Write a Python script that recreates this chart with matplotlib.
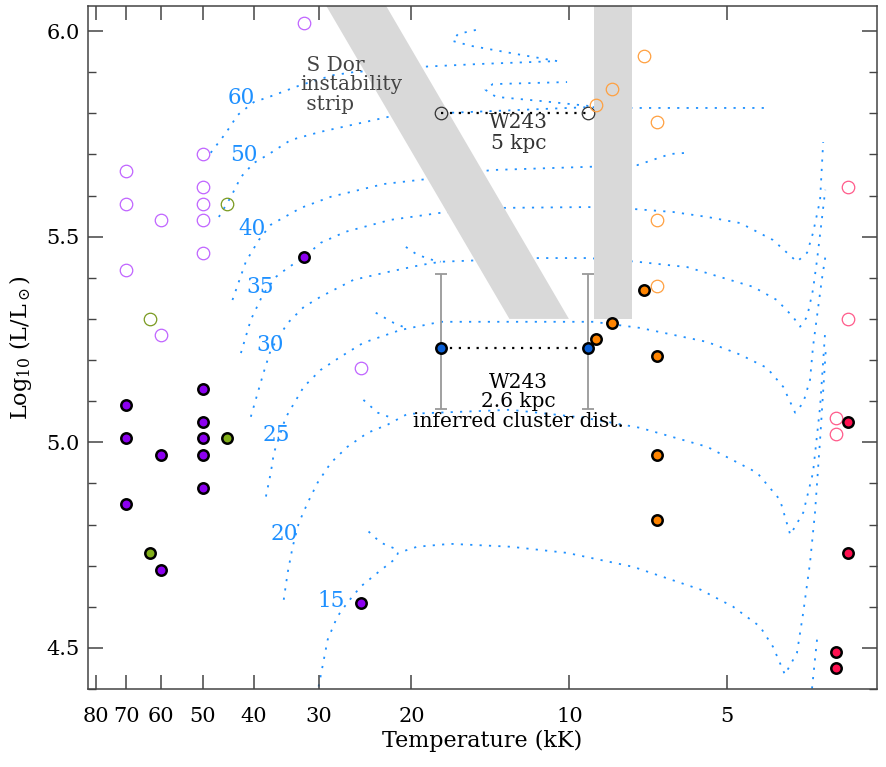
import numpy as np
import matplotlib
matplotlib.use('Agg')
import matplotlib.pyplot as plt
from matplotlib.ticker import MultipleLocator, NullLocator, FormatStrFormatter

plt.rcParams['font.family'] = ['DejaVu Serif']
plt.rcParams['mathtext.fontset'] = 'dejavuserif'

nan = np.nan

# stars: temperature (kK) and log10 L/Lsun
violet_open_T = [32, 70, 70, 70, 60, 60, 50, 50, 50, 50, 50, 25]
violet_open_L = [6.02, 5.66, 5.58, 5.42, 5.54, 5.26, 5.70, 5.62, 5.58, 5.54, 5.46, 5.18]
violet_T = [32, 70, 70, 70, 60, 60, 50, 50, 50, 50, 50, 25]
violet_L = [5.45, 5.09, 5.01, 4.85, 4.97, 4.69, 5.13, 5.05, 5.01, 4.97, 4.89, 4.61]
green_open_T = [45, 63]
green_open_L = [5.58, 5.30]
green_T = [45, 63]
green_L = [5.01, 4.73]
orange_open_T = [7.19, 8.28, 8.88, 6.79, 6.79, 6.79]
orange_open_L = [5.94, 5.86, 5.82, 5.78, 5.54, 5.38]
orange_T = [7.19, 8.28, 8.88, 6.79, 6.79, 6.79]
orange_L = [5.37, 5.29, 5.25, 5.21, 4.97, 4.81]
pink_open_T = [2.94, 2.94, 3.10, 3.10]
pink_open_L = [5.62, 5.30, 5.06, 5.02]
red_T = [2.94, 2.94, 3.10, 3.10]
red_L = [5.05, 4.73, 4.49, 4.45]

# W243 at two distances
w243_T = [17.6, 9.2]
w243_5kpc_L = [5.80, 5.80]
w243_26kpc_L = [5.23, 5.23]
w243_err_lo = [0.15, 0.15]
w243_err_hi = [0.18, 0.18]

# S Dor instability strip and the yellow-hypergiant band
sdor_T = [29.07, 22.35, 10.02, 13.01]
sdor_L = [6.061, 6.061, 5.30, 5.30]
yhg_T = [8.97, 7.58, 7.58, 8.97]
yhg_L = [6.061, 6.061, 5.30, 5.30]

# evolutionary tracks (T kK, log L), nan breaks a segment
track_60 = [(48.3, 5.704), (45.2, 5.752), (42.9, 5.796), (40.0, 5.827), (36.6, 5.844),
            (32.5, 5.869), (28.15, 5.893), (25.8, 5.900), (19.2, 5.913), (14.8, 5.920),
            (10.55, 5.927), (12.6, 5.944), (15.4, 5.964), (16.7, 5.976), (16.3, 5.993),
            (14.8, 6.005)]
track_50 = [(46.6, 5.548), (44.2, 5.597), (42.3, 5.645), (40.0, 5.679), (37.6, 5.699),
            (34.0, 5.735), (29.8, 5.755), (22.2, 5.791), (17.1, 5.801), (9.2, 5.815),
            (7.55, 5.813), (4.18, 5.813), (nan, nan), (9.2, 5.818), (11.35, 5.830),
            (13.8, 5.840), (14.45, 5.857), (14.0, 5.871), (10.1, 5.876)]
track_40 = [(43.9, 5.346), (41.4, 5.439), (39.1, 5.492), (37.1, 5.529), (32.5, 5.570),
            (28.5, 5.597), (22.6, 5.628), (17.85, 5.643), (14.1, 5.662), (9.12, 5.670),
            (7.42, 5.674), (6.92, 5.687), (6.42, 5.701), (5.96, 5.704)]
track_35 = [(42.3, 5.217), (40.5, 5.298), (38.45, 5.358), (36.3, 5.402), (34.45, 5.424),
            (32.0, 5.451), (29.8, 5.485), (26.7, 5.512), (21.9, 5.541), (17.6, 5.558),
            (13.4, 5.570), (9.2, 5.572), (7.49, 5.567), (6.34, 5.560), (5.46, 5.548),
            (4.72, 5.533), (4.09, 5.492), (3.845, 5.461), (3.68, 5.439), (3.52, 5.461),
            (3.43, 5.509), (3.325, 5.589), (3.28, 5.730)]
track_30 = [(40.5, 5.062), (39.3, 5.120), (38.3, 5.169), (37.1, 5.225), (34.45, 5.290),
            (32.1, 5.329), (29.8, 5.354), (25.8, 5.395), (22.2, 5.414), (19.2, 5.431),
            (17.6, 5.439), (11.5, 5.448), (9.2, 5.448), (7.42, 5.439), (5.96, 5.426),
            (5.16, 5.402), (4.46, 5.378), (4.02, 5.346), (3.745, 5.305), (3.63, 5.281),
            (3.52, 5.305), (3.43, 5.371), (3.37, 5.443), (3.30, 5.541), (3.25, 5.614),
            (nan, nan), (20.5, 5.475), (19.5, 5.456), (18.2, 5.443), (17.6, 5.439)]
track_25 = [(37.9, 4.868), (37.1, 4.926), (36.6, 4.974), (34.75, 5.060), (32.1, 5.135),
            (29.8, 5.176), (27.3, 5.208), (24.7, 5.242), (21.0, 5.273), (17.6, 5.293),
            (9.0, 5.293), (7.32, 5.278), (5.46, 5.244), (4.72, 5.213), (4.20, 5.181),
            (3.91, 5.135), (3.71, 5.072), (3.58, 5.096), (3.475, 5.152), (3.43, 5.232),
            (3.30, 5.395), (3.24, 5.461), (nan, nan), (23.4, 5.315), (21.6, 5.290),
            (20.5, 5.278)]
track_20 = [(35.05, 4.617), (34.45, 4.683), (33.7, 4.746), (32.8, 4.804), (31.55, 4.853),
            (30.2, 4.902), (28.5, 4.950), (26.5, 4.989), (24.25, 5.023), (22.2, 5.043),
            (20.35, 5.069), (12.95, 5.079), (9.4, 5.060), (7.32, 5.035), (5.46, 4.989),
            (4.385, 4.926), (3.965, 4.860), (3.79, 4.775), (3.58, 4.829), (3.43, 4.926),
            (3.325, 5.086), (3.25, 5.273), (nan, nan), (24.7, 5.103), (23.2, 5.072),
            (21.9, 5.060)]
track_15 = [(30.07, 4.406), (28.9, 4.520), (27.7, 4.576), (26.5, 4.610), (25.0, 4.649),
            (23.2, 4.683), (21.6, 4.714), (21.2, 4.731), (19.5, 4.746), (16.85, 4.753),
            (12.95, 4.746), (10.1, 4.731), (7.55, 4.697), (5.63, 4.642), (4.87, 4.600),
            (4.33, 4.552), (4.09, 4.503), (3.88, 4.435), (3.68, 4.488), (3.58, 4.586),
            (3.475, 4.707), (3.40, 4.829), (3.325, 5.006), (3.24, 5.232), (nan, nan),
            (24.15, 4.783), (22.9, 4.756), (21.3, 4.739), (nan, nan), (3.37, 4.520),
            (3.445, 4.401)]
track_masses = ['60', '50', '40', '35', '30', '25', '20', '15']
tracks = [track_60, track_50, track_40, track_35, track_30, track_25, track_20, track_15]
label_T = [42.3, 41.8, 40.3, 38.8, 37.2, 36.15, 35.0, 28.5]
label_L = [5.837, 5.699, 5.518, 5.378, 5.237, 5.018, 4.778, 4.615]

xticks = [80, 70, 60, 50, 40, 30, 20, 10, 5]

track_col = '#1e90ff'

fig = plt.figure(figsize=(8.86, 7.67), dpi=100)
ax = fig.add_axes([0.0993, 0.1017, 0.8905, 0.8905])

for tr in tracks:
    tr = np.array(tr)
    ax.plot(tr[:, 0], tr[:, 1], color=track_col, lw=1.3, ls=(0, (1.2, 4.0)), zorder=1)
for m, tx, ly in zip(track_masses, label_T, label_L):
    ax.text(tx, ly, m, color=track_col, fontsize=15.5, ha='center', va='center', zorder=5)

ax.fill(sdor_T, sdor_L, color='#d9d9d9', lw=0, zorder=2)
ax.fill(yhg_T, yhg_L, color='#d9d9d9', lw=0, zorder=2)

# W243
ax.errorbar(w243_T, w243_26kpc_L, yerr=[w243_err_lo, w243_err_hi], fmt='none',
            ecolor='#999999', elinewidth=1.3, capsize=4, capthick=1.3, zorder=3)
ax.plot(w243_T, w243_5kpc_L, color='black', ls=(0, (1, 3)), lw=1.6, zorder=3)
ax.plot(w243_T, w243_26kpc_L, color='black', ls=(0, (1, 3)), lw=1.6, zorder=3)
ax.plot(w243_T, w243_5kpc_L, 'o', ms=9, mfc='none', mec='#333333', mew=0.9, zorder=4)
ax.plot(w243_T, w243_26kpc_L, 'o', ms=7.5, mfc='#0a5fd6', mec='black', mew=1.8, zorder=4)

opn = dict(marker='o', ls='none', ms=9, mfc='none', mew=0.9, zorder=4)
fil = dict(marker='o', ls='none', ms=7.5, mec='black', mew=1.8, zorder=4)
ax.plot(violet_open_T, violet_open_L, mec='#c064ff', **opn)
ax.plot(green_open_T, green_open_L, mec='#7a9a20', **opn)
ax.plot(orange_open_T, orange_open_L, mec='#ffa040', **opn)
ax.plot(pink_open_T, pink_open_L, mec='#ff5a8a', **opn)
ax.plot(violet_T, violet_L, mfc='#8c00f0', **fil)
ax.plot(green_T, green_L, mfc='#82b01a', **fil)
ax.plot(orange_T, orange_L, mfc='#ff8400', **fil)
ax.plot(red_T, red_L, mfc='#ff1050', **fil)

ax.text(32.6, 5.869, ' S Dor\ninstability\n strip', color='#444444', fontsize=14.5,
        ha='left', va='center', linespacing=1.05, zorder=5)
ax.text(12.5, 5.753, 'W243\n5 kpc', color='#333333', fontsize=14.5,
        ha='center', va='center', linespacing=1.15, zorder=5)
ax.text(12.5, 5.098, 'W243\n2.6 kpc\ninferred cluster dist.', color='black', fontsize=14.5,
        ha='center', va='center', linespacing=1.02, zorder=5)

ax.set_xscale('log')
ax.set_xlim(82.8, 2.59)
ax.set_ylim(4.40, 6.061)
ax.set_xticks(xticks, labels=[str(t) for t in xticks])
ax.xaxis.set_minor_locator(NullLocator())
ax.yaxis.set_major_locator(MultipleLocator(0.5))
ax.yaxis.set_minor_locator(MultipleLocator(0.1))
ax.yaxis.set_major_formatter(FormatStrFormatter('%.1f'))
ax.tick_params(which='both', direction='in', top=True, right=True, colors='#444444',
               labelcolor='black', labelsize=15)
ax.tick_params(axis='x', length=10, width=1.1, pad=13)
ax.tick_params(axis='y', which='major', length=11, width=1.1, pad=6)
ax.tick_params(axis='y', which='minor', length=6, width=1.0)
for s in ax.spines.values():
    s.set_color('#444444')
    s.set_linewidth(1.1)

ax.set_xlabel('Temperature (kK)', fontsize=16, labelpad=3)
ax.set_ylabel(r'Log$_{10}$ (L/L$_\odot$)', fontsize=16, labelpad=9)

plt.savefig('out.png', dpi=100)
